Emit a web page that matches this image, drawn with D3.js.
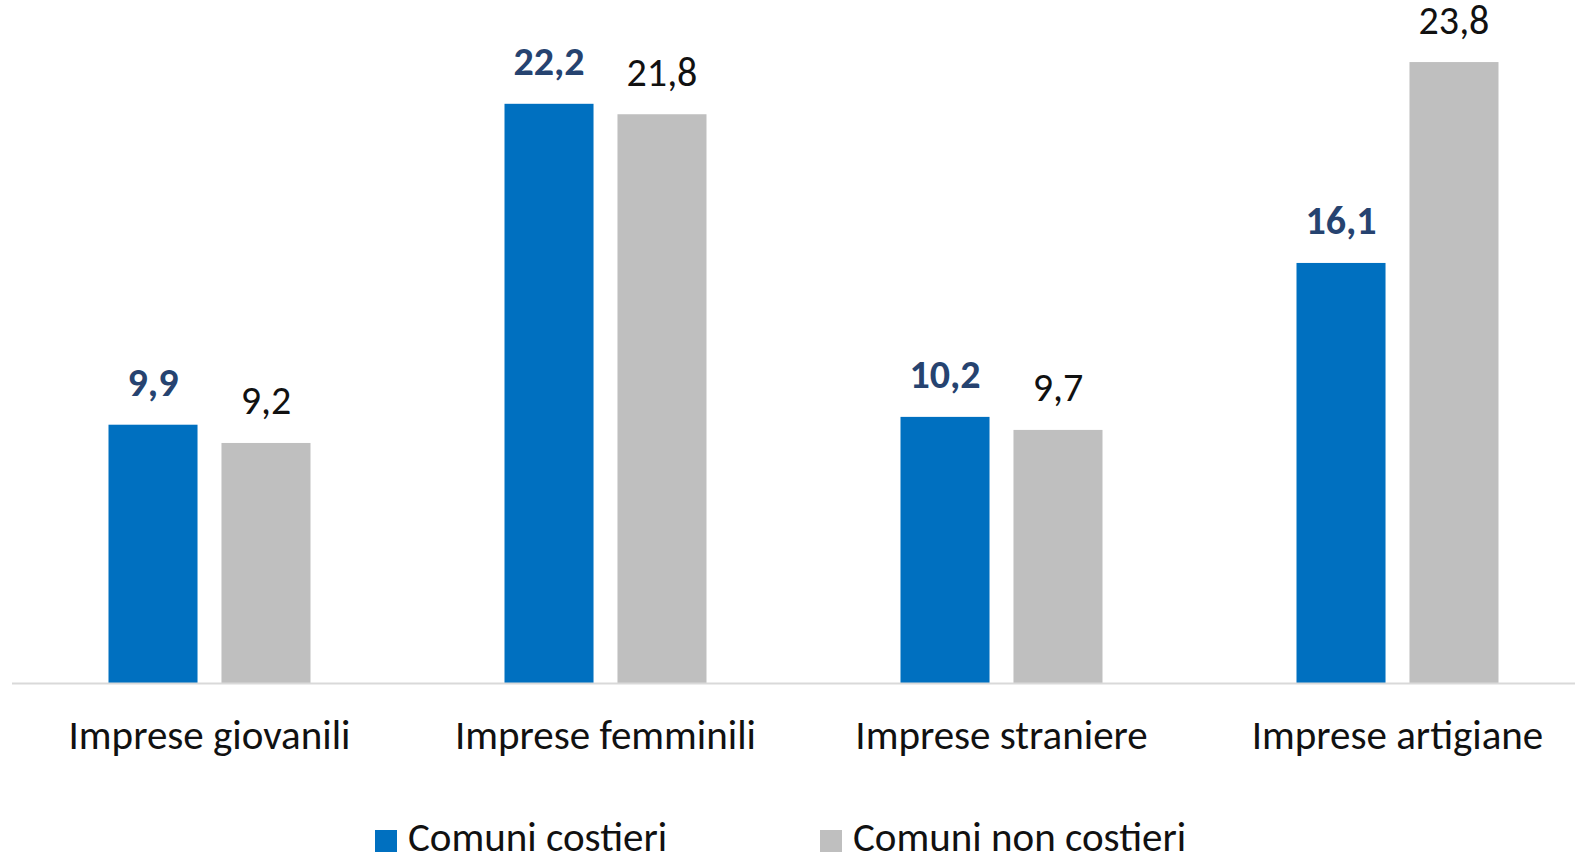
<!DOCTYPE html>
<html>
<head>
<meta charset="utf-8">
<script src="https://cdn.jsdelivr.net/npm/d3@7"></script>
<style>
  body { margin: 0; background: #fff; }
  text { font-family: Carlito, Calibri, Lato, sans-serif; }
</style>
</head>
<body>
<div id="chart"></div>
<script>
// categories and series
const categories = ["Imprese giovanili", "Imprese femminili", "Imprese straniere", "Imprese artigiane"];
const seriesNames = ["Comuni costieri", "Comuni non costieri"];
const costieri = [9.9, 22.2, 10.2, 16.1];
const nonCostieri = [9.2, 21.8, 9.7, 23.8];
const colors = ["#0070C0", "#BFBFBF"];
const labelColors = ["#264370", "#111111"];

const width = 1575, height = 859;
const baseY = 683;

const svg = d3.select("#chart").append("svg")
    .attr("width", width)
    .attr("height", height);

// the plot runs off the right edge, like in the original picture
const x0 = d3.scaleBand()
    .domain(categories)
    .range([11.5, 11.5 + 396 * 4]);

const x1 = d3.scaleBand()
    .domain(seriesNames)
    .range([97, 299])
    .paddingInner(0.212);

const y = d3.scaleLinear()
    .domain([0, 25])
    .range([baseY, baseY - 25 * 26.09]);

const rows = categories.map((c, i) => ({
  cat: c,
  values: [
    { name: seriesNames[0], v: costieri[i], s: 0 },
    { name: seriesNames[1], v: nonCostieri[i], s: 1 }
  ]
}));

const groups = svg.selectAll(".grp")
  .data(rows)
  .enter().append("g")
  .attr("class", "grp")
  .attr("transform", d => "translate(" + x0(d.cat) + ",0)");

groups.selectAll("rect")
  .data(d => d.values)
  .enter().append("rect")
  .attr("x", d => x1(d.name))
  .attr("y", d => y(d.v))
  .attr("width", x1.bandwidth())
  .attr("height", d => baseY - y(d.v))
  .style("fill", d => colors[d.s]);

// data labels
groups.selectAll(".lbl")
  .data(d => d.values)
  .enter().append("text")
  .attr("class", "lbl")
  .attr("x", d => x1(d.name) + x1.bandwidth() / 2)
  .attr("y", d => y(d.v) - 28.5)
  .attr("text-anchor", "middle")
  .style("font-size", "40px")
  .style("font-weight", d => d.s === 0 ? "bold" : "normal")
  .style("fill", d => labelColors[d.s])
  .text(d => String(d.v.toFixed(1)).replace(".", ","));

// x axis line
svg.append("line")
  .attr("x1", 12).attr("x2", width)
  .attr("y1", baseY + 0.5).attr("y2", baseY + 0.5)
  .style("stroke", "#D9D9D9")
  .style("stroke-width", 2);

// category labels
svg.selectAll(".cat")
  .data(categories)
  .enter().append("text")
  .attr("class", "cat")
  .attr("x", d => x0(d) + x0.bandwidth() / 2)
  .attr("y", 749)
  .attr("text-anchor", "middle")
  .style("font-size", "41px")
  .style("fill", "#111")
  .text(d => d);

// legend
const legendX = [375, 820];
const legend = svg.selectAll(".leg")
  .data(seriesNames)
  .enter().append("g")
  .attr("class", "leg")
  .attr("transform", (d, i) => "translate(" + legendX[i] + ",830)");

legend.append("rect")
  .attr("width", 22).attr("height", 22)
  .style("fill", (d, i) => colors[i]);

legend.append("text")
  .attr("x", 33)
  .attr("y", 21)
  .style("font-size", "41px")
  .style("fill", "#111")
  .text(d => d);
</script>
</body>
</html>
